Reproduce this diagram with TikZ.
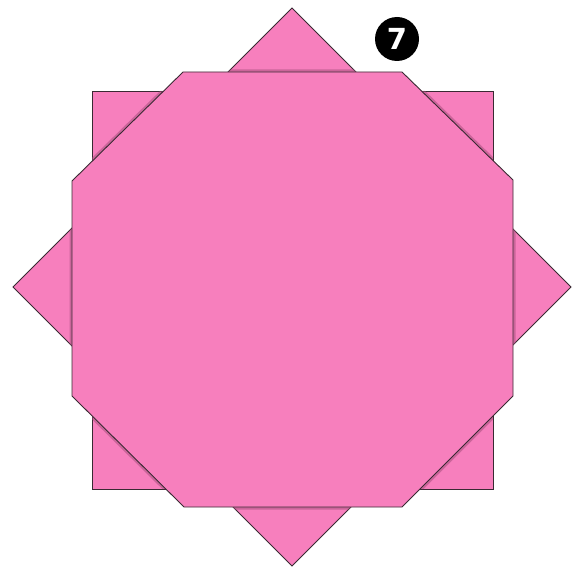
\documentclass[tikz,border=0pt]{standalone}
\usepackage{fontspec}
\usepackage{tikz}
\usetikzlibrary{positioning}
\newfontfamily\markfont{DejaVu Sans}
\definecolor{PetalFill}{HTML}{F77FBD}
\definecolor{PetalBord}{HTML}{3A2A33}
\definecolor{PetalShade}{HTML}{A8507F}
\tikzset{
  petal/.style={fill=PetalFill, draw=PetalBord, line width=0.9pt, line join=miter},
  shade/.style={draw=PetalShade, line width=5pt, opacity=0.55},
  stepmark/.style={circle, fill=black, text=white, inner sep=0pt, minimum size=44pt,
                   font=\markfont\bfseries\fontsize{29}{29}\selectfont},
}
\begin{document}
\begin{tikzpicture}[x=1pt,y=-1pt]
\useasboundingbox (0,0) rectangle (588,567);

% ---------------- square and diamond underneath ----------------
\draw[petal] (92,91) rectangle (493,489);
\draw[petal] (292,8) -- (571,287) -- (292,566) -- (13,287) -- cycle;

% ---------------- soft shade of the octagon on the layers below ----------------
\begin{scope}
  \clip (92,91) -- (493,91) -- (493,489) -- (92,489) -- cycle
        (292,8) -- (571,287) -- (292,566) -- (13,287) -- cycle;
  \draw[shade] (183,72) -- (402,72) -- (513,180) -- (513,396) -- (402,507)
               -- (184,507) -- (72,396) -- (72,181) -- cycle;
\end{scope}

% ---------------- octagon on top ----------------
\draw[petal] (183,72) -- (402,72) -- (513,180) -- (513,396) -- (402,507)
             -- (184,507) -- (72,396) -- (72,181) -- cycle;

\node[stepmark] (step7) at (397,39) {7};

\end{tikzpicture}
\end{document}
